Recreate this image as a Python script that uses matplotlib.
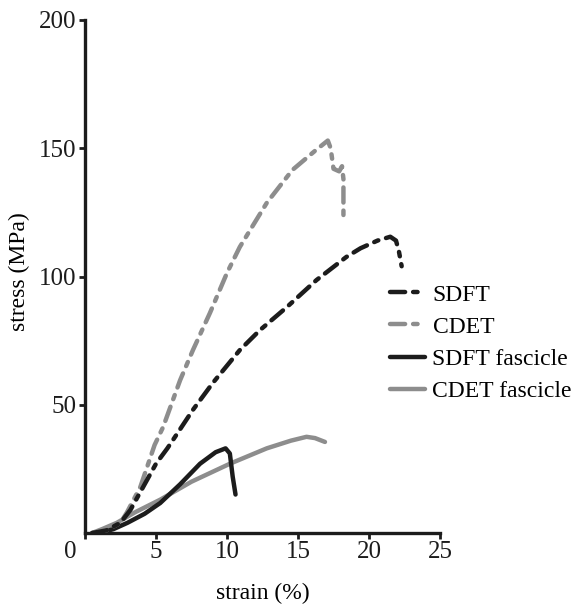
import numpy as np
import matplotlib.pyplot as plt
from matplotlib.transforms import ScaledTranslation

# strain (%) / stress (MPa)
sdft_strain = [0.5, 1.5, 2.5, 3.2, 4.1, 5.0, 5.8, 6.2, 7.6, 9.0, 10.9, 12.3, 14.2, 16.3, 18.4, 19.4, 20.6, 21.5, 21.9, 22.1, 22.3]
sdft_stress = [0, 1, 4, 9, 18, 27, 33, 36.3, 48, 58.5, 71.3, 79, 88, 98.6, 107.6, 111, 114, 115.5, 114, 110, 104]

cdet_strain = [0.5, 1.5, 2.5, 2.95, 3.9, 4.9, 5.5, 6.7, 7.6, 8.8, 10.0, 10.9, 12.8, 14.6, 16.2, 17.1, 17.3, 17.5, 17.9, 18.1, 18.2, 18.2]
cdet_stress = [0, 1, 4, 8, 18, 34.3, 41.3, 59.6, 71.3, 85.8, 101.4, 111.5, 128.7, 141.5, 149, 153, 150, 142, 141, 143, 138, 121]

sdft_fas_strain = [1.0, 2.0, 3.0, 4.2, 5.3, 6.7, 8.1, 9.2, 9.9, 10.2, 10.4, 10.6]
sdft_fas_stress = [0, 1.5, 4, 7.5, 11.7, 19, 27, 31.5, 33, 31, 22, 15]

cdet_fas_strain = [0.5, 1.2, 2.25, 3.5, 5.3, 7.5, 10.2, 12.8, 14.5, 15.6, 16.2, 16.9]
cdet_fas_stress = [0, 1.5, 4, 8, 13, 20, 27, 33, 36, 37.5, 37, 35.5]

black = '#1c1c1c'
grey = '#8d8d8d'
dashdot = (0, (3.4, 1.8, 1.0, 1.8))

plt.rcParams['font.family'] = ['Liberation Serif', 'DejaVu Serif']

fig = plt.figure(figsize=(5.74, 6.06), dpi=100)
ax = fig.add_axes([85 / 574, 73 / 606, 355 / 574, 513 / 606])

ax.plot(cdet_fas_strain, cdet_fas_stress, color=grey, lw=3.2, solid_capstyle='round', label='CDET fascicle', zorder=2)
ax.plot(sdft_fas_strain, sdft_fas_stress, color=black, lw=3.2, solid_capstyle='round', label='SDFT fascicle', zorder=3)
ax.plot(cdet_strain, cdet_stress, color=grey, lw=3.2, linestyle=dashdot, dash_capstyle='round', label='CDET', zorder=4)
ax.plot(sdft_strain, sdft_stress, color=black, lw=3.2, linestyle=dashdot, dash_capstyle='round', label='SDFT', zorder=5)

ax.set_xlim(0, 25)
ax.set_ylim(0, 200)
ax.set_xticks([0, 5, 10, 15, 20, 25])
ax.set_yticks([50, 100, 150, 200])

for side in ['top', 'right']:
    ax.spines[side].set_visible(False)
for side in ['left', 'bottom']:
    ax.spines[side].set_linewidth(2.4)
    ax.spines[side].set_color(black)
ax.tick_params(axis='both', direction='out', length=4, width=2, colors=black, labelsize=18, pad=2)
ax.set_xlabel('strain (%)', fontsize=17, labelpad=14)
ax.set_ylabel('stress (MPa)', fontsize=17)
ax.yaxis.set_label_coords(-0.155, 0.51)

# the "0" label sits left of its tick in the original
fig.canvas.draw()
zero_lbl = ax.get_xticklabels()[0]
zero_lbl.set_transform(zero_lbl.get_transform() + ScaledTranslation(-0.15, 0, fig.dpi_scale_trans))

handles, labels = ax.get_legend_handles_labels()
order = [3, 2, 1, 0]
ax.legend([handles[i] for i in order], [labels[i] for i in order],
          loc='upper left', bbox_to_anchor=(390 / 574, 1 - 284 / 606),
          bbox_transform=fig.transFigure, frameon=False, fontsize=17,
          handlelength=1.5, handletextpad=0.3, labelspacing=0.45,
          borderpad=0, borderaxespad=0)

fig.savefig('out.png', dpi=100)
